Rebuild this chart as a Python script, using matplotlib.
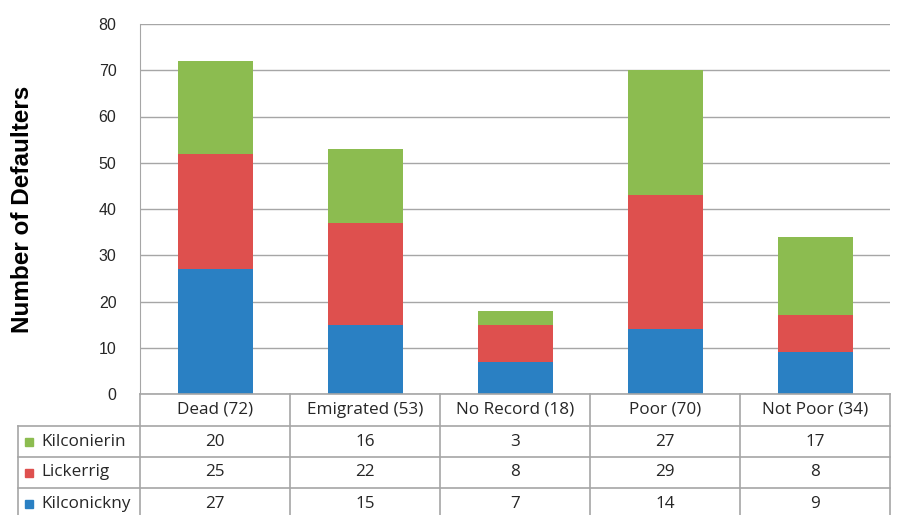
import matplotlib
matplotlib.use("Agg")
import matplotlib.pyplot as plt
import numpy as np

# Data
categories = ["Dead (72)", "Emigrated (53)", "No Record (18)", "Poor (70)", "Not Poor (34)"]
kilconickny = [27, 15, 7, 14, 9]
lickerrig = [25, 22, 8, 29, 8]
kilconierin = [20, 16, 3, 27, 17]

BLUE = "#2A80C3"
RED = "#DE504E"
GREEN = "#8CBC50"
GRID = "#A6A6A6"
TEXT = "#262626"

W, H = 897, 515
fig = plt.figure(figsize=(W / 100, H / 100), dpi=100)
fig.patch.set_facecolor("white")

# plot area in pixels
left, right, top, bottom = 140, 890, 24, 394
ax = fig.add_axes([left / W, 1 - bottom / H, (right - left) / W, (bottom - top) / H])

x = np.arange(len(categories))
width = 0.5
b1 = np.array(kilconickny)
b2 = b1 + np.array(lickerrig)
ax.bar(x, kilconickny, width, color=BLUE, zorder=3)
ax.bar(x, lickerrig, width, bottom=b1, color=RED, zorder=3)
ax.bar(x, kilconierin, width, bottom=b2, color=GREEN, zorder=3)

ax.set_xlim(-0.5, len(categories) - 0.5)
ax.set_ylim(0, 80)
ax.set_yticks(range(0, 81, 10))
ax.set_xticks([])
ax.yaxis.grid(True, color=GRID, linewidth=1, zorder=0)
for s in ["top", "right", "bottom"]:
    ax.spines[s].set_visible(False)
ax.spines["left"].set_color(GRID)
ax.tick_params(axis="y", length=0, pad=17, labelsize=11.5, labelcolor=TEXT)
for lab in ax.get_yticklabels():
    lab.set_fontfamily("Liberation Sans")
ax.set_ylabel("Number of Defaulters", fontsize=17.5, fontweight="bold",
              family="Liberation Sans", color="black")
ax.yaxis.set_label_coords((34 - left) / (right - left), 0.5)

# Data table drawn below the plot area (pixel coordinates)
tax = fig.add_axes([0, 0, 1, 1])
tax.set_xlim(0, W)
tax.set_ylim(H, 0)
tax.axis("off")

col_w = (right - left) / len(categories)
row_h = 31
hdr_top = bottom
rows_top = hdr_top + 32
tab_left = 18
series = [("Kilconierin", kilconierin, GREEN),
          ("Lickerrig", lickerrig, RED),
          ("Kilconickny", kilconickny, BLUE)]
n_rows = len(series)
tab_bottom = rows_top + n_rows * row_h

lc = GRID
lw = 1.2
# horizontal lines
tax.plot([left, right], [hdr_top, hdr_top], color=lc, lw=lw)
for i in range(n_rows + 1):
    y = rows_top + i * row_h
    tax.plot([tab_left, right], [y, y], color=lc, lw=lw)
# vertical lines
for j in range(len(categories) + 1):
    xx = left + j * col_w
    tax.plot([xx, xx], [hdr_top, tab_bottom], color=lc, lw=lw)
tax.plot([tab_left, tab_left], [rows_top, tab_bottom], color=lc, lw=lw)

font = "Open Sans"
fs = 12.3
for j, c in enumerate(categories):
    tax.text(left + (j + 0.5) * col_w, (hdr_top + rows_top) / 2, c,
             ha="center", va="center", fontsize=fs, family=font, color=TEXT)
for i, (name, vals, col) in enumerate(series):
    yc = rows_top + (i + 0.5) * row_h
    tax.add_patch(plt.Rectangle((25, yc - 4), 8, 8, color=col))
    tax.text(41, yc, name, ha="left", va="center", fontsize=fs, family=font, color=TEXT)
    for j, v in enumerate(vals):
        tax.text(left + (j + 0.5) * col_w, yc, str(v), ha="center", va="center",
                 fontsize=fs, family=font, color=TEXT)

fig.savefig("out.png", dpi=100, facecolor="white")
